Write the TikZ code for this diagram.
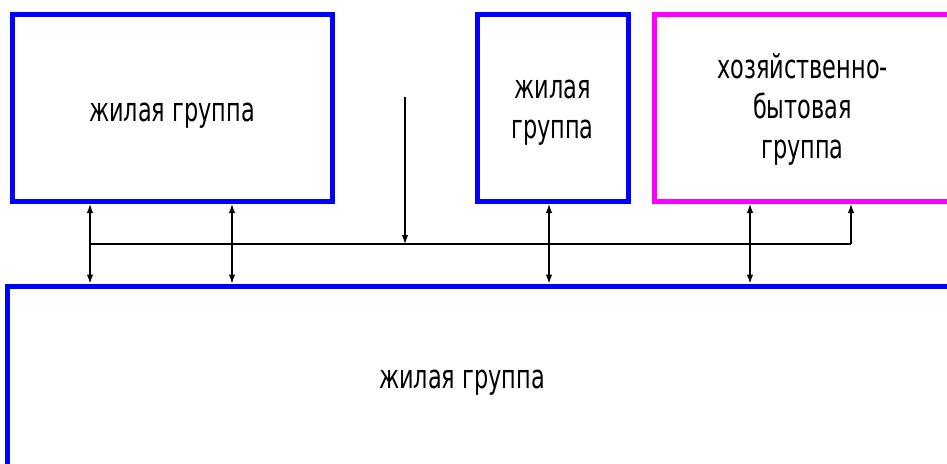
\documentclass[tikz,border=0pt]{standalone}
\usepackage{fontspec}
\setmainfont{DejaVu Sans}[FakeStretch=0.68]
\usetikzlibrary{arrows.meta}
\definecolor{bblue}{RGB}{0,0,255}
\definecolor{bmag}{RGB}{255,0,255}
\begin{document}
\begin{tikzpicture}[x=1pt,y=-1pt,
  grp/.style={draw=bblue,line width=5pt,inner sep=0pt},
  lbl/.style={inner sep=0pt,align=center,font=\fontsize{33}{40}\selectfont},
  conn/.style={line width=1.2pt,black},
  tip/.style={-{Latex[length=9pt,width=6.5pt]}},
  dtip/.style={{Latex[length=9pt,width=6.5pt]}-{Latex[length=9pt,width=6.5pt]}}]
\useasboundingbox (0,0) rectangle (947,463);
\begin{scope}
\clip (0,0) rectangle (947,463);
\node[grp,minimum width=320pt,minimum height=187pt] (g1) at (172,108) {};
\node[grp,minimum width=151pt,minimum height=187pt] (g2) at (552.5,108) {};
\node[grp,draw=bmag,minimum width=297pt,minimum height=187pt] (g3) at (802.5,108) {};
\node[grp,minimum width=1093pt,minimum height=314pt] (g4) at (553.5,443) {};
\node[lbl] (g1t) at (172,116) {жилая группа};
\node[lbl] (g2t) at (552.5,113) {жилая\\группа};
\node[lbl] (g3t) at (802.5,109) {хозяйственно-\\бытовая\\группа};
\node[lbl] (g4t) at (462,383) {жилая группа};
\coordinate (b1) at (90,244);
\coordinate (b2) at (232,244);
\coordinate (b3) at (549,244);
\coordinate (b4) at (750,244);
\coordinate (b5) at (851,244);
\coordinate (src) at (405,97);
\draw[conn] (b1) -- (b5);
\draw[conn,dtip] (g1.south -| b1) -- (g4.north -| b1);
\draw[conn,dtip] (g1.south -| b2) -- (g4.north -| b2);
\draw[conn,dtip] (g2.south -| b3) -- (g4.north -| b3);
\draw[conn,dtip] (g3.south -| b4) -- (g4.north -| b4);
\draw[conn,tip] (b5) -- (g3.south -| b5);
\draw[conn,tip] (src) -- (src |- b1);
\end{scope}
\end{tikzpicture}
\end{document}
